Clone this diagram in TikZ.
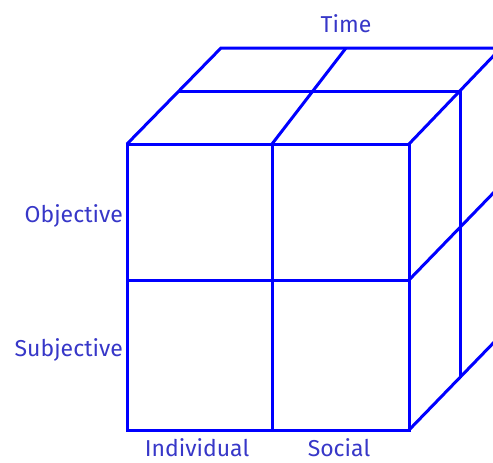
\documentclass[tikz,border=0pt]{standalone}
\usepackage{fontspec}
\setmainfont{Fira Sans}
\definecolor{edge}{RGB}{0,0,255}
\definecolor{lbl}{RGB}{55,55,200}
\begin{document}
\begin{tikzpicture}[x=1pt,y=-1pt,
  cubeline/.style={draw=edge,line width=3pt,line join=miter},
  lab/.style={text=lbl,font=\fontsize{23}{23}\selectfont,inner sep=0pt}]
\useasboundingbox (0,0) rectangle (493,463);
\clip (0,0) rectangle (493,463);
% front face corners
\coordinate (f00) at (127,144);
\coordinate (f10) at (272,144);
\coordinate (f20) at (409,144);
\coordinate (f01) at (127,280);
\coordinate (f21) at (409,280);
\coordinate (f02) at (127,430);
\coordinate (f12) at (272,430);
\coordinate (f22) at (409,430);
% middle depth plane
\coordinate (m00) at (179,91);
\coordinate (m20) at (460,91);
\coordinate (m22) at (460,378);
% back plane
\coordinate (b00) at (221,48);
\coordinate (b10) at (346,48);
\coordinate (b20) at (501,48);
\coordinate (b21) at (503,183);
\coordinate (b22) at (503,333);
% front face
\draw[cubeline] (f00) rectangle (f22);
\draw[cubeline] (f10) -- (f12);
\draw[cubeline] (f01) -- (f21);
% top face
\draw[cubeline] (f00) -- (b00) -- (b20);
\draw[cubeline] (f10) -- (b10);
\draw[cubeline] (f20) -- (b20);
\draw[cubeline] (m00) -- (m20);
% right face
\draw[cubeline] (m20) -- (m22);
\draw[cubeline] (f21) -- (b21);
\draw[cubeline] (f22) -- (b22);
% labels
\node[lab] (time) at (346,24) {Time};
\node[lab,anchor=east] (obj) at (123,216) {Objective};
\node[lab,anchor=east] (subj) at (123,350) {Subjective};
\node[lab] (ind) at (197,448) {Individual};
\node[lab] (soc) at (339,448) {Social};
\end{tikzpicture}
\end{document}
